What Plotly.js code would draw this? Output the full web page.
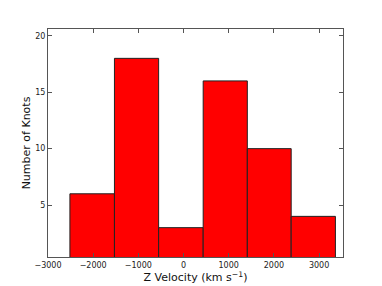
<!DOCTYPE html>
<html><head><meta charset="utf-8">
<script src="https://cdn.plot.ly/plotly-3.0.1.min.js"></script>
<style>body{margin:0;background:#fff}#c{width:382px;height:286px}</style>
</head><body><div id="c"></div>
<script>
var binEdges = [-2515, -1529, -551, 435, 1412, 2383, 3362];
var counts = [6, 18, 3, 16, 10, 4];
var xTicks = [-3000, -2000, -1000, 0, 1000, 2000, 3000];
var yTicks = [5, 10, 15, 20];

var centers = [], widths = [];
for (var i = 0; i < counts.length; i++) {
  centers.push((binEdges[i] + binEdges[i+1]) / 2);
  widths.push(binEdges[i+1] - binEdges[i]);
}
var trace = {
  type: 'bar', x: centers, y: counts, width: widths,
  marker: {color: '#ff0000', line: {color: '#222', width: 1}},
  hoverinfo: 'none'
};
var ax = {
  showgrid: false, zeroline: false, mirror: 'allticks', ticks: 'inside',
  ticklen: 4, tickwidth: 1, tickcolor: '#555', showline: true, linecolor: '#555', linewidth: 1,
  tickfont: {family: 'DejaVu Sans', size: 8, color: '#222'}
};
var layout = {
  width: 382, height: 286,
  margin: {l: 48, r: 39, t: 29, b: 29},
  paper_bgcolor: '#fff', plot_bgcolor: '#fff',
  showlegend: false, bargap: 0,
  xaxis: Object.assign({}, ax, {range: [-3000, 3530], tickvals: xTicks,
    title: {text: 'Z Velocity (km s<sup>\u22121</sup>)', font: {family: 'DejaVu Sans', size: 11, color: '#111'}, standoff: 3}}),
  yaxis: Object.assign({}, ax, {range: [0.4, 20.6], tickvals: yTicks,
    title: {text: 'Number of Knots', font: {family: 'DejaVu Sans', size: 11, color: '#111'}, standoff: 2}})
};
Plotly.newPlot('c', [trace], layout, {displayModeBar: false, staticPlot: true});
</script></body></html>
